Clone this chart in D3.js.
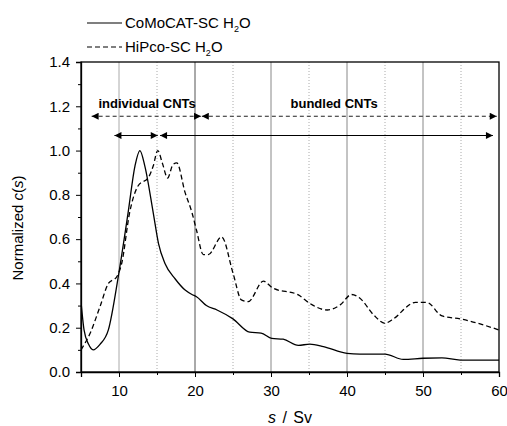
<!DOCTYPE html>
<html>
<head>
<meta charset="utf-8">
<script src="https://cdn.jsdelivr.net/npm/d3@7"></script>
<style>
  body { margin: 0; background: #fff; }
  svg { font-family: "Liberation Sans", Arial, sans-serif; }
</style>
</head>
<body>
<script>
// CoMoCAT-SC H2O (solid)
var comoX = [5, 5.4, 6, 6.6, 7.5, 8.6, 9.9, 11.2, 12.1, 12.75, 13.4, 14.5, 15.2, 16.05, 17.4, 18.7, 19.6, 20.2, 21.5, 22.9, 25.0, 27.2, 28.7, 30.1, 31.6, 33.6, 35.1, 36.9, 40.0, 41.7, 45.0, 47.4, 50.0, 52.5, 54.9, 60];
var comoY = [0.318, 0.19, 0.125, 0.10, 0.125, 0.19, 0.43, 0.72, 0.93, 1.0, 0.93, 0.72, 0.58, 0.49, 0.42, 0.37, 0.35, 0.34, 0.30, 0.28, 0.24, 0.18, 0.176, 0.152, 0.148, 0.12, 0.126, 0.115, 0.084, 0.081, 0.081, 0.057, 0.062, 0.064, 0.054, 0.054];

// HiPco-SC H2O (dashed)
var hipcoX = [5, 6.2, 7.5, 8.6, 9.7, 10.35, 11.4, 12.5, 13.9, 14.5, 15.1, 15.7, 16.4, 17.1, 17.6, 18.7, 19.6, 20.2, 21.1, 21.75, 23.5, 25.0, 26.1, 27.0, 29.0, 30.2, 33.6, 35.1, 37.4, 39.1, 40.6, 41.7, 43.5, 45.0, 45.9, 49.0, 50.5, 52.5, 54.9, 60];
var hipcoY = [0.10, 0.175, 0.295, 0.40, 0.43, 0.49, 0.72, 0.84, 0.88, 0.93, 1.0, 0.944, 0.876, 0.937, 0.944, 0.81, 0.72, 0.64, 0.53, 0.53, 0.61, 0.447, 0.326, 0.318, 0.41, 0.38, 0.348, 0.31, 0.28, 0.303, 0.35, 0.333, 0.258, 0.22, 0.235, 0.314, 0.314, 0.253, 0.24, 0.19];

var xTicks = [10, 20, 30, 40, 50, 60];
var xMinor = [15, 25, 35, 45, 55];
var yTicks = [0, 0.2, 0.4, 0.6, 0.8, 1.0, 1.2, 1.4];
var yMinor = [0.1, 0.3, 0.5, 0.7, 0.9, 1.1, 1.3];

// regions (in data units)
var dashedArrows = [[6.4, 20.8, 1.155], [20.9, 59.7, 1.155]];
var solidArrows = [[9.4, 15.1, 1.068], [15.4, 59.2, 1.068]];
var regionLabels = [["individual CNTs", 13.7, 1.21], ["bundled CNTs", 38.3, 1.21]];

var margin = {top: 62, right: 8, bottom: 54, left: 81},
    width = 507 - margin.left - margin.right,
    height = 426 - margin.top - margin.bottom;

var x = d3.scaleLinear().domain([5, 60]).range([0, width]);
var y = d3.scaleLinear().domain([0, 1.4]).range([height, 0]);

var svgRoot = d3.select("body").append("svg")
    .attr("width", 507)
    .attr("height", 426);

var defs = svgRoot.append("defs");
defs.append("marker")
    .attr("id", "head")
    .attr("viewBox", "0 0 10 10")
    .attr("refX", 10).attr("refY", 5)
    .attr("markerWidth", 10).attr("markerHeight", 7)
    .attr("markerUnits", "userSpaceOnUse")
    .attr("orient", "auto-start-reverse")
  .append("path")
    .attr("d", "M0,0L10,5L0,10z")
    .attr("fill", "#000");
defs.append("clipPath").attr("id", "clip")
  .append("rect").attr("width", width).attr("height", height);

var svg = svgRoot.append("g")
    .attr("transform", "translate(" + margin.left + "," + margin.top + ")");

// vertical grid lines
svg.selectAll(".gmaj")
    .data([10, 20, 30, 40, 50])
  .enter().append("line")
    .attr("x1", function(d) { return x(d); })
    .attr("x2", function(d) { return x(d); })
    .attr("y1", 0).attr("y2", height)
    .attr("stroke", function(d) { return d == 20 ? "#555" : (d == 10 ? "#aaa" : "#888"); })
    .attr("stroke-width", 1);

svg.selectAll(".gmin")
    .data(xMinor)
  .enter().append("line")
    .attr("x1", function(d) { return x(d); })
    .attr("x2", function(d) { return x(d); })
    .attr("y1", 0).attr("y2", height)
    .attr("stroke", "#aaa")
    .attr("stroke-width", 1)
    .attr("stroke-dasharray", "1,2");

// curves
var line = d3.line()
    .x(function(d) { return x(d[0]); })
    .y(function(d) { return y(d[1]); })
    .curve(d3.curveMonotoneX);

svg.append("path")
    .datum(d3.zip(comoX, comoY))
    .attr("clip-path", "url(#clip)")
    .attr("fill", "none")
    .attr("stroke", "#000")
    .attr("stroke-width", 1.3)
    .attr("d", line);

svg.append("path")
    .datum(d3.zip(hipcoX, hipcoY))
    .attr("clip-path", "url(#clip)")
    .attr("fill", "none")
    .attr("stroke", "#000")
    .attr("stroke-width", 1.3)
    .attr("stroke-dasharray", "5,3")
    .attr("d", line);

// region arrows
svg.selectAll(".darr")
    .data(dashedArrows)
  .enter().append("line")
    .attr("x1", function(d) { return x(d[0]); })
    .attr("x2", function(d) { return x(d[1]); })
    .attr("y1", function(d) { return y(d[2]); })
    .attr("y2", function(d) { return y(d[2]); })
    .attr("stroke", "#222")
    .attr("stroke-width", 1.2)
    .attr("stroke-dasharray", "4,3")
    .attr("marker-start", "url(#head)")
    .attr("marker-end", "url(#head)");

svg.selectAll(".sarr")
    .data(solidArrows)
  .enter().append("line")
    .attr("x1", function(d) { return x(d[0]); })
    .attr("x2", function(d) { return x(d[1]); })
    .attr("y1", function(d) { return y(d[2]); })
    .attr("y2", function(d) { return y(d[2]); })
    .attr("stroke", "#000")
    .attr("stroke-width", 1.2)
    .attr("marker-start", "url(#head)")
    .attr("marker-end", "url(#head)");

svg.selectAll(".rlab")
    .data(regionLabels)
  .enter().append("text")
    .attr("x", function(d) { return x(d[1]); })
    .attr("y", function(d) { return y(d[2]); })
    .attr("dy", "0.3em")
    .style("text-anchor", "middle")
    .style("font-weight", "bold")
    .style("font-size", "13px")
    .text(function(d) { return d[0]; });

// axes
svg.append("g")
    .attr("transform", "translate(0," + height + ")")
    .call(d3.axisBottom(x).tickValues(xTicks).tickSize(5).tickPadding(8).tickFormat(d3.format("d")));
svg.append("g")
    .attr("transform", "translate(0," + height + ")")
    .call(d3.axisBottom(x).tickValues(xMinor).tickSize(3).tickFormat(""))
    .select(".domain").remove();

svg.append("g")
    .call(d3.axisLeft(y).tickValues(yTicks).tickSize(5).tickPadding(6).tickFormat(d3.format(".1f")));
svg.append("g")
    .call(d3.axisLeft(y).tickValues(yMinor).tickSize(3).tickFormat(""))
    .select(".domain").remove();

svg.selectAll(".tick text")
    .style("font-size", "15px")
    .style("font-family", "'Liberation Sans', Arial, sans-serif");
svg.selectAll(".domain").attr("stroke-width", 1.3);

// frame
svg.append("rect")
    .attr("width", width)
    .attr("height", height)
    .attr("fill", "none")
    .attr("stroke", "#000")
    .attr("stroke-width", 1.3);

// axis titles
var xt = svg.append("text")
    .attr("x", width / 2)
    .attr("y", height + 51)
    .style("text-anchor", "middle")
    .style("font-size", "16px")
    .style("word-spacing", "2px");
xt.append("tspan").style("font-style", "italic").text("s");
xt.append("tspan").text(" / Sv");

var yt = svg.append("text")
    .attr("transform", "translate(" + (18 - margin.left) + "," + (height / 2 + 11) + ") rotate(-90)")
    .attr("dy", "0.35em")
    .style("text-anchor", "middle")
    .style("font-size", "15px");
yt.append("tspan").text("Normalized ");
yt.append("tspan").style("font-style", "italic").text("c");
yt.append("tspan").text("(");
yt.append("tspan").style("font-style", "italic").text("s");
yt.append("tspan").text(")");

// legend
var legendNames = ["CoMoCAT-SC H", "HiPco-SC H"];
var legendDash = [null, "5,3"];
var legend = svgRoot.append("g").attr("transform", "translate(87,23)");
legendNames.forEach(function(name, i) {
  var g = legend.append("g").attr("transform", "translate(0," + (i * 24) + ")");
  g.append("line")
    .attr("x1", 0).attr("x2", 35)
    .attr("stroke", "#000")
    .attr("stroke-width", 1.2)
    .attr("stroke-dasharray", legendDash[i]);
  var t = g.append("text")
    .attr("x", 38)
    .attr("dy", "0.35em")
    .style("font-size", "15px");
  t.append("tspan").text(name);
  t.append("tspan").attr("dy", 4).style("font-size", "9px").text("2");
  t.append("tspan").attr("dy", -4).text("O");
});
</script>
</body>
</html>
